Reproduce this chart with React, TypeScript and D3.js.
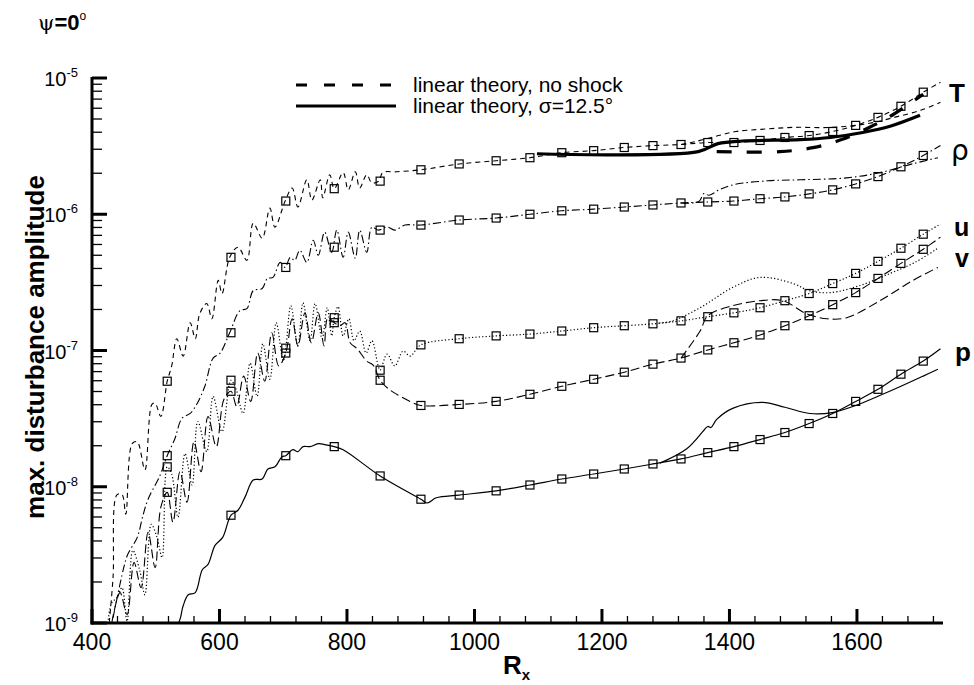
import React from "react";
import * as d3 from "d3";

type P = [number, number];

// ---------- axis data ----------
const xMajorTicks = [400, 600, 800, 1000, 1200, 1400, 1600];
const xMinorStep = 40;
const yDecadeExps = [-9, -8, -7, -6, -5];

// x positions of the square markers (R_x)
const squareX = [518, 618, 704, 780, 852, 916, 976, 1034, 1087, 1137, 1187, 1235, 1280, 1324, 1366, 1407, 1448, 1487, 1525, 1562, 1598, 1633, 1669, 1704];

// ---------- T (temperature) ----------
const tEarly: P[] = [[427, 1.0e-9], [433, 2.15e-9], [439, 8.7e-9], [447, 8.8e-9], [453, 6.3e-9], [463, 2.07e-8], [471, 2.14e-8], [483, 1.33e-8], [494, 4.02e-8], [499, 4.1e-8], [508, 3.28e-8], [518, 5.95e-8], [525, 7.7e-8], [533, 1.22e-7], [543, 9.1e-8], [554, 1.6e-7], [562, 1.22e-7], [569, 1.86e-7], [580, 2.21e-7], [588, 1.71e-7], [598, 3.27e-7], [604, 2.62e-7], [616, 4.83e-7], [629, 5.73e-7], [643, 4.59e-7], [653, 8.6e-7], [667, 6.67e-7], [679, 1.11e-6], [687, 8.05e-7], [703, 1.25e-6], [714, 1.56e-6], [723, 1.13e-6], [737, 1.79e-6], [745, 1.27e-6], [758, 1.79e-6], [762, 1.32e-6], [773, 1.95e-6], [780, 1.54e-6], [794, 2.02e-6], [802, 1.51e-6], [813, 2.05e-6], [820, 1.56e-6], [831, 1.95e-6], [839, 1.7e-6], [850, 1.75e-6], [856, 2.02e-6], [878, 2.05e-6]];
const tSquares: (number | null)[] = [5.95e-8, 4.83e-7, 1.25e-6, 1.54e-6, 1.75e-6, 2.12e-6, 2.34e-6, 2.47e-6, 2.6e-6, 2.83e-6, 2.93e-6, 3.09e-6, 3.19e-6, 3.25e-6, 3.36e-6, 3.36e-6, 3.48e-6, 3.66e-6, 3.78e-6, 4.05e-6, 4.49e-6, 5.14e-6, 6.2e-6, 7.87e-6];
const tEnd: P = [1731, 9.3e-6];
const tAlt: P[] = [[1324, 3.25e-6], [1345, 3.4e-6], [1380, 3.75e-6], [1410, 4.05e-6], [1450, 4.2e-6], [1500, 4.34e-6], [1560, 4.34e-6], [1620, 4.65e-6], [1660, 5.16e-6], [1700, 5.8e-6], [1731, 6.63e-6]];

// ---------- rho (density) ----------
const rhoEarly: P[] = [[433, 1.09e-9], [449, 2.46e-9], [456, 3.18e-9], [471, 4.25e-9], [480, 6.18e-9], [488, 8.1e-9], [507, 1.22e-8], [518, 1.69e-8], [530, 2.25e-8], [541, 3.17e-8], [554, 3.45e-8], [565, 4.09e-8], [577, 5.46e-8], [590, 8.8e-8], [601, 9.58e-8], [616, 1.35e-7], [632, 1.96e-7], [643, 2.03e-7], [653, 2.75e-7], [667, 2.85e-7], [675, 3.38e-7], [684, 3.44e-7], [695, 4.43e-7], [703, 4.07e-7], [711, 4.83e-7], [718, 4.59e-7], [726, 5.44e-7], [737, 4.43e-7], [747, 6.45e-7], [755, 5.0e-7], [765, 7.39e-7], [776, 5.26e-7], [784, 7.65e-7], [794, 4.83e-7], [802, 7.39e-7], [813, 4.75e-7], [820, 7.65e-7], [831, 5.26e-7], [839, 8.05e-7], [849, 7.65e-7], [863, 8.05e-7], [875, 7.65e-7], [891, 8.33e-7]];
const rhoSquares: (number | null)[] = [1.69e-8, 1.35e-7, 4.07e-7, 5.73e-7, 7.65e-7, 8.33e-7, 9.07e-7, 9.38e-7, 1.0e-6, 1.06e-6, 1.09e-6, 1.13e-6, 1.17e-6, 1.21e-6, 1.23e-6, 1.25e-6, 1.3e-6, 1.34e-6, 1.41e-6, 1.51e-6, 1.67e-6, 1.89e-6, 2.23e-6, 2.7e-6];
const rhoEnd: P = [1731, 3.2e-6];
const rhoAlt: P[] = [[1324, 1.21e-6], [1352, 1.24e-6], [1360, 1.42e-6], [1368, 1.38e-6], [1385, 1.52e-6], [1407, 1.65e-6], [1460, 1.76e-6], [1511, 1.79e-6], [1584, 1.85e-6], [1636, 2.02e-6], [1688, 2.35e-6], [1727, 2.6e-6]];

// ---------- u ----------
const uEarly: P[] = [[425, 1.0e-9], [431, 1.41e-9], [439, 1.53e-9], [447, 1.82e-9], [455, 1.03e-9], [464, 3.41e-9], [475, 2.42e-9], [483, 1.61e-9], [493, 5.3e-9], [502, 4.25e-9], [510, 3.02e-9], [518, 1.4e-8], [525, 1.24e-8], [535, 5.98e-9], [546, 1.75e-8], [557, 1.03e-8], [566, 3.01e-8], [580, 1.81e-8], [590, 4.61e-8], [604, 2.54e-8], [618, 6.05e-8], [626, 5.19e-8], [637, 3.45e-8], [648, 8.08e-8], [659, 4.61e-8], [668, 1.12e-7], [679, 6.15e-8], [689, 1.6e-7], [700, 8.36e-8], [704, 1.04e-7], [712, 2.13e-7], [723, 1.08e-7], [731, 2.24e-7], [742, 1.18e-7], [750, 2.21e-7], [761, 1.22e-7], [769, 2.06e-7], [776, 1.28e-7], [780, 1.74e-7], [786, 2.1e-7], [794, 1.28e-7], [803, 1.71e-7], [811, 1.18e-7], [820, 1.39e-7], [830, 9.58e-8], [839, 1.18e-7], [849, 7.7e-8], [852, 7.17e-8], [863, 9.4e-8], [875, 7.7e-8], [888, 9.9e-8], [899, 9.1e-8]];
const uSquares: (number | null)[] = [1.4e-8, 6.05e-8, 1.04e-7, 1.74e-7, 7.17e-8, 1.1e-7, 1.22e-7, 1.28e-7, 1.32e-7, 1.39e-7, 1.47e-7, 1.52e-7, 1.57e-7, 1.65e-7, 1.77e-7, 1.89e-7, 2.06e-7, 2.32e-7, 2.62e-7, 3.1e-7, 3.68e-7, 4.51e-7, 5.63e-7, 7.14e-7];
const uEnd: P = [1731, 8.47e-7];
const uAlt: P[] = [[1290, 1.59e-7], [1311, 1.65e-7], [1354, 2.06e-7], [1405, 2.9e-7], [1448, 3.44e-7], [1500, 3.1e-7], [1525, 2.75e-7], [1558, 2.66e-7], [1605, 3.0e-7], [1652, 3.68e-7], [1691, 4.43e-7], [1727, 5.63e-7]];

// ---------- v ----------
const vEarly: P[] = [[431, 1.0e-9], [444, 1.67e-9], [455, 1.15e-9], [466, 2.78e-9], [477, 1.82e-9], [488, 4.63e-9], [499, 2.55e-9], [508, 7.08e-9], [518, 9.1e-9], [527, 5.49e-9], [538, 1.29e-8], [549, 7.71e-9], [560, 2.14e-8], [571, 1.29e-8], [582, 3.28e-8], [595, 1.97e-8], [607, 4.38e-8], [618, 5.02e-8], [627, 3.89e-8], [638, 6.49e-8], [649, 4.23e-8], [660, 9.58e-8], [671, 5.95e-8], [682, 1.35e-7], [693, 7.7e-8], [704, 9.58e-8], [714, 1.71e-7], [723, 1.08e-7], [734, 1.89e-7], [744, 1.14e-7], [755, 1.89e-7], [764, 1.08e-7], [770, 1.74e-7], [780, 1.6e-7], [789, 1.52e-7], [797, 1.6e-7], [805, 1.14e-7], [816, 1.03e-7], [831, 8.36e-8], [841, 7.82e-8], [852, 6.05e-8], [864, 5.28e-8], [878, 4.77e-8], [899, 4.23e-8]];
const vSquares: (number | null)[] = [9.1e-9, 5.02e-8, 9.58e-8, 1.6e-7, 6.05e-8, 3.95e-8, 4.02e-8, 4.23e-8, 4.77e-8, 5.46e-8, 6.15e-8, 6.93e-8, 7.94e-8, 8.8e-8, 1.01e-7, 1.14e-7, 1.3e-7, 1.52e-7, 1.8e-7, 2.17e-7, 2.66e-7, 3.38e-7, 4.36e-7, 5.53e-7];
const vEnd: P = [1731, 6.79e-7];
const vAlt: P[] = [[1324, 8.8e-8], [1354, 1.39e-7], [1366, 1.8e-7], [1405, 2.13e-7], [1448, 2.32e-7], [1484, 2.32e-7], [1521, 1.86e-7], [1553, 1.71e-7], [1584, 1.74e-7], [1636, 2.32e-7], [1688, 3.27e-7], [1727, 4.07e-7]];

// ---------- p ----------
const pEarly: P[] = [[522, 1.0e-9], [535, 1.0e-9], [543, 1.34e-9], [551, 1.61e-9], [562, 1.67e-9], [573, 2.46e-9], [582, 2.69e-9], [593, 3.71e-9], [605, 4.25e-9], [618, 6.18e-9], [629, 6.72e-9], [640, 8.39e-9], [653, 1.12e-8], [667, 1.14e-8], [676, 1.35e-8], [687, 1.4e-8], [698, 1.66e-8], [704, 1.69e-8], [715, 1.87e-8], [723, 1.81e-8], [731, 1.97e-8], [742, 1.97e-8], [755, 2.07e-8], [765, 2.04e-8], [780, 1.97e-8], [794, 1.87e-8], [852, 1.2e-8]];
const pExtra: P[] = [[926, 7.6e-9], [940, 8.3e-9]];
const pSquares: (number | null)[] = [null, 6.18e-9, 1.69e-8, 1.97e-8, 1.2e-8, 8.1e-9, 8.69e-9, 9.33e-9, 1.03e-8, 1.14e-8, 1.24e-8, 1.35e-8, 1.47e-8, 1.6e-8, 1.78e-8, 1.97e-8, 2.22e-8, 2.5e-8, 2.91e-8, 3.45e-8, 4.23e-8, 5.19e-8, 6.7e-8, 8.36e-8];
const pEnd: P = [1731, 1.03e-7];
const pAlt: P[] = [[1291, 1.49e-8], [1333, 1.9e-8], [1360, 2.6e-8], [1366, 2.77e-8], [1371, 2.72e-8], [1380, 3.12e-8], [1405, 3.76e-8], [1452, 4.16e-8], [1487, 3.83e-8], [1526, 3.45e-8], [1561, 3.5e-8], [1598, 3.95e-8], [1633, 4.61e-8], [1669, 5.46e-8], [1704, 6.49e-8], [1727, 7.29e-8]];

// ---------- linear theory (thick) ----------
const linSigma: P[] = [[1098, 2.78e-6], [1351, 2.88e-6], [1382, 3.3e-6], [1420, 3.45e-6], [1511, 3.53e-6], [1558, 3.66e-6], [1609, 3.98e-6], [1652, 4.42e-6], [1699, 5.32e-6]];
const linNoShock: P[] = [[1380, 2.88e-6], [1479, 2.88e-6], [1531, 3.08e-6], [1576, 3.53e-6], [1620, 4.35e-6], [1652, 5.22e-6], [1704, 7.6e-6]];

const legendLabels = ["linear theory, no shock", "linear theory, \u03c3=12.5\u00b0"];

const FONT = "'Liberation Sans', Arial, Helvetica, sans-serif";

function buildMain(early: P[], squares: (number | null)[], end: P, extra: P[] = []): P[] {
  const pts: P[] = [...early];
  squareX.forEach((sx, i) => {
    const v = squares[i];
    if (sx >= 900 && v != null) pts.push([sx, v]);
  });
  pts.push(end);
  pts.push(...extra);
  return pts.sort((a, b) => a[0] - b[0]);
}

export default function App() {
  const x = d3.scaleLinear().domain([400, 1735]).range([92, 943]);
  const y = d3.scaleLog().domain([1e-9, 1e-5]).range([623, 78]);
  const line = d3
    .line<P>()
    .x((d) => x(d[0]))
    .y((d) => y(d[1]))
    .curve(d3.curveCatmullRom.alpha(0.5));

  const series = [
    { main: buildMain(tEarly, tSquares, tEnd), alt: tAlt, sq: tSquares, dash: "5,4", w: 1.1 },
    { main: buildMain(rhoEarly, rhoSquares, rhoEnd), alt: rhoAlt, sq: rhoSquares, dash: "8,3,1.5,3", w: 1.1 },
    { main: buildMain(uEarly, uSquares, uEnd), alt: uAlt, sq: uSquares, dash: "1.2,2.2", w: 1.2 },
    { main: buildMain(vEarly, vSquares, vEnd), alt: vAlt, sq: vSquares, dash: "9,4", w: 1.1 },
    { main: buildMain(pEarly, pSquares, pEnd, pExtra), alt: pAlt, sq: pSquares, dash: "none", w: 1.2 },
  ];

  const y0 = y(1e-9);
  const xMinor: number[] = [];
  for (let v = 400; v <= 1735; v += xMinorStep) if (!xMajorTicks.includes(v)) xMinor.push(v);
  const yMinor: number[] = [];
  yDecadeExps.slice(0, -1).forEach((e) => {
    for (let k = 2; k <= 9; k++) yMinor.push(k * Math.pow(10, e));
  });

  const sqSize = 8;

  return (
    <svg width={974} height={685} style={{ display: "block", position: "absolute", left: 0, top: 0, background: "#fff" }}>
      <rect x={0} y={0} width={974} height={685} fill="#fff" />
      <defs>
        <clipPath id="plotclip">
          <rect x={92} y={60} width={860} height={y0 - 60} />
        </clipPath>
      </defs>

      {/* title */}
      <text x={38} y={30} fontFamily={FONT} fontSize={22} fill="#000">
        <tspan fontFamily="'DejaVu Serif', serif" fontSize={21}>{"\u03c8"}</tspan>
        <tspan fontWeight="bold">=0</tspan>
        <tspan dy={-10} fontSize={12}>o</tspan>
      </text>

      {/* curves */}
      <g clipPath="url(#plotclip)" fill="none" stroke="#000">
        {series.map((s, i) => (
          <g key={i}>
            <path d={line(s.main) || ""} strokeWidth={s.w} strokeDasharray={s.dash} />
            <path d={line(s.alt) || ""} strokeWidth={s.w} strokeDasharray={s.dash} />
            {squareX.map((sx, j) =>
              s.sq[j] == null ? null : (
                <rect
                  key={j}
                  x={x(sx) - sqSize / 2}
                  y={y(s.sq[j] as number) - sqSize / 2}
                  width={sqSize}
                  height={sqSize}
                  fill="none"
                  stroke="#000"
                  strokeWidth={1.2}
                />
              )
            )}
          </g>
        ))}
        <path d={line(linSigma) || ""} strokeWidth={3.2} />
        <path d={line(linNoShock) || ""} strokeWidth={3.2} strokeDasharray="15,15" />
      </g>

      {/* legend */}
      <g fontFamily={FONT} fontSize={21} fill="#000">
        <line x1={296} x2={396} y1={85} y2={85} stroke="#000" strokeWidth={3.2} strokeDasharray="11,17" />
        <text x={413} y={92}>{legendLabels[0]}</text>
        <line x1={296} x2={396} y1={106} y2={106} stroke="#000" strokeWidth={3.2} />
        <text x={413} y={113}>{legendLabels[1]}</text>
      </g>

      {/* axes */}
      <g stroke="#000">
        <line x1={x(400)} x2={x(400)} y1={y(1e-5) - 1} y2={y0 + 1.5} strokeWidth={3} />
        <line x1={x(400) - 1.5} x2={x(1735)} y1={y0} y2={y0} strokeWidth={3} />
        {yDecadeExps.map((e) => (
          <line key={e} x1={x(400)} x2={x(400) + 15} y1={y(Math.pow(10, e))} y2={y(Math.pow(10, e))} strokeWidth={3} />
        ))}
        {yMinor.map((v, i) => (
          <line key={i} x1={x(400)} x2={x(400) + 10} y1={y(v)} y2={y(v)} strokeWidth={1.3} />
        ))}
        {xMajorTicks.map((v) => (
          <line key={v} x1={x(v)} x2={x(v)} y1={y0} y2={y0 - 14} strokeWidth={3} />
        ))}
        {xMinor.map((v) => (
          <line key={v} x1={x(v)} x2={x(v)} y1={y0} y2={y0 - 7} strokeWidth={1.3} />
        ))}
      </g>

      {/* tick labels */}
      <g fontFamily={FONT} fill="#000">
        {xMajorTicks.map((v) => (
          <text key={v} x={x(v)} y={y0 + 27} fontSize={23} textAnchor="middle">
            {v}
          </text>
        ))}
        {yDecadeExps.map((e) => (
          <text key={e} x={78} y={y(Math.pow(10, e)) + 8} fontSize={20} textAnchor="end">
            <tspan>10</tspan>
            <tspan dy={-9} fontSize={13}>{String(e)}</tspan>
          </text>
        ))}
      </g>

      {/* axis titles */}
      <text
        transform={`translate(44,347) rotate(-90)`}
        textAnchor="middle"
        fontFamily={FONT}
        fontWeight="bold"
        fontSize={26}
        fill="#000"
      >
        max. disturbance amplitude
      </text>
      <text x={503} y={674} fontFamily={FONT} fontWeight="bold" fontSize={26} fill="#000">
        R<tspan dy={6} fontSize={15}>x</tspan>
      </text>

      {/* series labels */}
      <g fontFamily={FONT} fill="#000">
        <text x={949} y={102} fontSize={26} fontWeight="bold">T</text>
        <text x={951} y={160} fontSize={28} fontFamily="'DejaVu Sans', sans-serif">{"\u03c1"}</text>
        <text x={954} y={236} fontSize={25} fontWeight="bold">u</text>
        <text x={955} y={267} fontSize={25} fontWeight="bold">v</text>
        <text x={955} y={361} fontSize={26} fontWeight="bold">p</text>
      </g>
    </svg>
  );
}
